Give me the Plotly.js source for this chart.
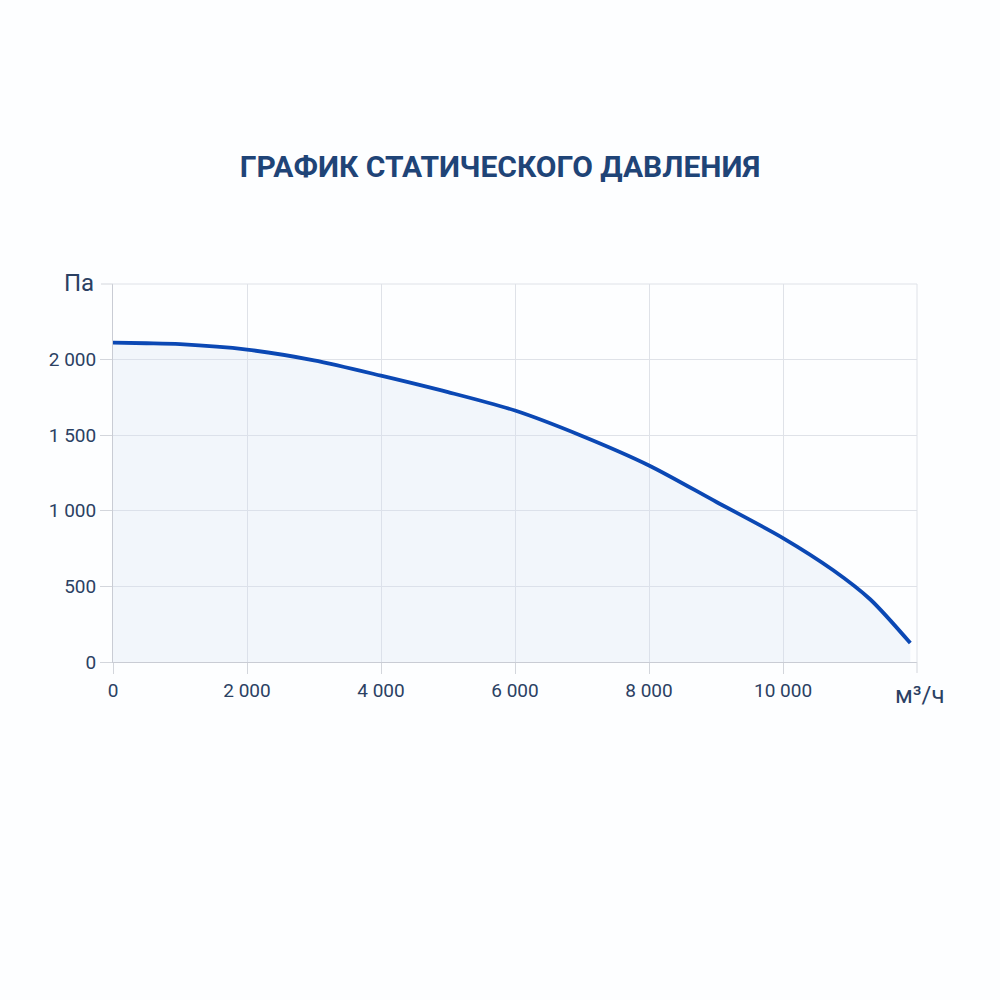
<!DOCTYPE html>
<html><head><meta charset="utf-8">
<script src="https://cdn.plot.ly/plotly-3.0.1.min.js"></script>
<style>html,body{margin:0;padding:0;background:#fdfeff;}#chart{width:1000px;height:1000px;}</style>
</head><body><div id="chart"></div>
<script>
const flow = [0, 500, 1000, 2000, 3000, 4000, 5000, 6000, 7000, 8000, 9000, 10000, 10750, 11300, 11900];
const pressure = [2112, 2108, 2102, 2066, 1995, 1894, 1785, 1663, 1495, 1300, 1060, 820, 607, 415, 125];
const xTicks = [0, 2000, 4000, 6000, 8000, 10000];
const xTickText = ['0', '2 000', '4 000', '6 000', '8 000', '10 000'];
const yTicks = [0, 500, 1000, 1500, 2000];
const yTickText = ['0', '500', '1 000', '1 500', '2 000'];

const trace = {
  x: flow, y: pressure, type: 'scatter', mode: 'lines',
  line: {color: '#0b48b4', width: 3.8, shape: 'spline', smoothing: 0.8},
  fill: 'tozeroy', fillcolor: 'rgba(210,222,240,0.25)',
  hoverinfo: 'skip'
};
const layout = {
  width: 1000, height: 1000,
  paper_bgcolor: '#fdfeff', plot_bgcolor: '#fdfeff',
  margin: {l: 113, r: 83, t: 284, b: 338},
  showlegend: false,
  font: {family: 'Roboto, Arial, sans-serif', color: '#2b4163'},
  title: {text: '<b>ГРАФИК СТАТИЧЕСКОГО ДАВЛЕНИЯ</b>', x: 0.5, xanchor: 'center', y: 0.834, yanchor: 'middle',
    font: {family: 'Roboto, sans-serif', size: 30, color: '#1f4477'}},
  xaxis: {range: [0, 12000], tickvals: xTicks, ticktext: xTickText, tickfont: {size: 19, color: '#2b4163'},
    showgrid: true, gridcolor: '#dfe2e8', gridwidth: 1, zeroline: false,
    showline: true, linecolor: '#c9ccd4', linewidth: 1, ticks: 'outside', ticklen: 11, tickcolor: '#d3d6dc', fixedrange: true},
  yaxis: {range: [0, 2500], tickvals: yTicks, ticktext: yTickText, tickfont: {size: 19, color: '#2b4163'},
    showgrid: true, gridcolor: '#dfe2e8', gridwidth: 1, zeroline: false,
    showline: true, linecolor: '#c9ccd4', linewidth: 1, ticks: 'outside', ticklen: 12, tickcolor: '#d3d6dc', fixedrange: true},
  shapes: [
    {type: 'line', xref: 'paper', yref: 'paper', x0: 0, x1: 1, y0: 1, y1: 1, line: {color: '#dfe2e8', width: 1}},
    {type: 'line', xref: 'paper', yref: 'paper', x0: 1, x1: 1, y0: 0, y1: 1, line: {color: '#dfe2e8', width: 1}},
    {type: 'line', xref: 'paper', yref: 'paper', x0: 1, x1: 1, y0: 0, y1: -0.029, line: {color: '#d3d6dc', width: 1}},
    {type: 'line', xref: 'paper', yref: 'paper', x0: 0, x1: -0.015, y0: 1, y1: 1, line: {color: '#d3d6dc', width: 1}}
  ],
  annotations: [
    {text: 'Па', xref: 'paper', yref: 'paper', x: -0.021, y: 1.003, xanchor: 'right', yanchor: 'middle', showarrow: false,
      font: {size: 24, color: '#2b4163'}},
    {text: 'м³/ч', xref: 'paper', yref: 'paper', x: 1.004, y: -0.087, xanchor: 'center', yanchor: 'middle', showarrow: false,
      font: {size: 24, color: '#2b4163'}}
  ]
};
Plotly.newPlot('chart', [trace], layout, {displayModeBar: false, staticPlot: true});
</script></body></html>
